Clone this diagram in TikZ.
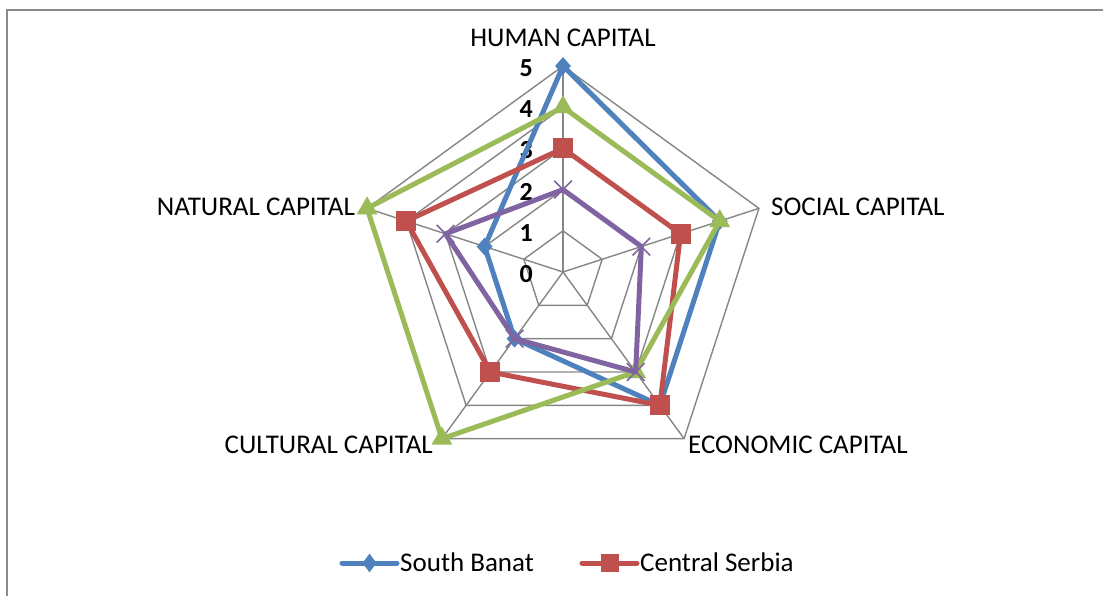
\documentclass[tikz,border=0pt]{standalone}
\usepackage{fontspec}
\setmainfont{Carlito}
\usetikzlibrary{shapes.geometric,shapes.misc,positioning}

\definecolor{sbblue}{RGB}{79,129,189}
\definecolor{csred}{RGB}{192,80,77}
\definecolor{grgreen}{RGB}{155,187,89}
\definecolor{pupurple}{RGB}{128,100,162}
\definecolor{gridgray}{RGB}{134,134,134}
\definecolor{framegray}{RGB}{140,140,140}

\tikzset{
  web/.style={gridgray, line width=1.4pt},
  series/.style={line width=5pt, line join=round, line cap=round},
  axislabel/.style={inner sep=0pt, font=\fontsize{27}{32}\selectfont},
  num/.style={inner sep=0pt, anchor=base east, font=\fontsize{26}{31}\selectfont\bfseries},
  sbmark/.style={diamond, fill=sbblue, inner sep=0pt, minimum width=16pt, minimum height=18pt},
  csmark/.style={rectangle, fill=csred, inner sep=0pt, minimum size=20pt},
  grmark/.style={regular polygon, regular polygon sides=3, fill=grgreen, inner sep=0pt, minimum size=24pt},
  pumark/.style={cross out, draw=pupurple, line width=1.6pt, inner sep=0pt, minimum size=16pt}
}

\begin{document}
\begin{tikzpicture}[x=1pt, y=1pt]
\useasboundingbox (0,0) rectangle (1103,-595);

% chart frame
\draw[framegray, line width=2pt] (7,-605) -- (7,-10) -- (1110,-10);

\begin{scope}[shift={(563pt,-272pt)}, x=41.2pt, y=41.2pt]

% web
\draw[web] (90:1) -- (18:1) -- (-54:1) -- (-126:1) -- (162:1) -- cycle;
\draw[web] (90:2) -- (18:2) -- (-54:2) -- (-126:2) -- (162:2) -- cycle;
\draw[web] (90:3) -- (18:3) -- (-54:3) -- (-126:3) -- (162:3) -- cycle;
\draw[web] (90:4) -- (18:4) -- (-54:4) -- (-126:4) -- (162:4) -- cycle;
\draw[web] (90:5) -- (18:5) -- (-54:5) -- (-126:5) -- (162:5) -- cycle;
\draw[web] (0,0) -- (90:5);
\draw[web] (0,0) -- (18:5);
\draw[web] (0,0) -- (-54:5);
\draw[web] (0,0) -- (-126:5);
\draw[web] (0,0) -- (162:5);

% scale
\node[num] (n0) at (-0.73,-0.255) {0};
\node[num] (n1) at (-0.73,0.745) {1};
\node[num] (n2) at (-0.73,1.745) {2};
\node[num] (n3) at (-0.73,2.745) {3};
\node[num] (n4) at (-0.73,3.745) {4};
\node[num] (n5) at (-0.73,4.745) {5};

% South Banat
\coordinate (sbH) at (90:5);
\coordinate (sbS) at (18:4);
\coordinate (sbE) at (-54:4);
\coordinate (sbC) at (-126:2);
\coordinate (sbN) at (162:2);
\draw[series, sbblue] (sbH) -- (sbS) -- (sbE) -- (sbC) -- (sbN) -- cycle;
\node[sbmark] (sbh) at (sbH) {};
\node[sbmark] (sbs) at (sbS) {};
\node[sbmark] (sbe) at (sbE) {};
\node[sbmark] (sbc) at (sbC) {};
\node[sbmark] (sbn) at (sbN) {};

% Central Serbia
\coordinate (csH) at (90:3);
\coordinate (csS) at (18:3);
\coordinate (csE) at (-54:4);
\coordinate (csC) at (-126:3);
\coordinate (csN) at (162:4);
\draw[series, csred] (csH) -- (csS) -- (csE) -- (csC) -- (csN) -- cycle;
\node[csmark] (csh) at (csH) {};
\node[csmark] (css) at (csS) {};
\node[csmark] (cse) at (csE) {};
\node[csmark] (csc) at (csC) {};
\node[csmark] (csn) at (csN) {};

% third series
\coordinate (grH) at (90:4);
\coordinate (grS) at (18:4);
\coordinate (grE) at (-54:3);
\coordinate (grC) at (-126:5);
\coordinate (grN) at (162:5);
\draw[series, grgreen] (grH) -- (grS) -- (grE) -- (grC) -- (grN) -- cycle;
\node[grmark] (grh) at (grH) {};
\node[grmark] (grs) at (grS) {};
\node[grmark] (gre) at (grE) {};
\node[grmark] (grc) at (grC) {};
\node[grmark] (grn) at (grN) {};

% fourth series
\coordinate (puH) at (90:2);
\coordinate (puS) at (18:2);
\coordinate (puE) at (-54:3);
\coordinate (puC) at (-126:2);
\coordinate (puN) at (162:3);
\draw[series, pupurple] (puH) -- (puS) -- (puE) -- (puC) -- (puN) -- cycle;
\node[pumark] (puh) at (puH) {};
\node[pumark] (pus) at (puS) {};
\node[pumark] (pue) at (puE) {};
\node[pumark] (puc) at (puC) {};
\node[pumark] (pun) at (puN) {};

\end{scope}

% axis labels
\node[axislabel, anchor=base] (human) at (563,-46.7) {HUMAN CAPITAL};
\node[axislabel, anchor=base west] (social) at (771,-215) {SOCIAL CAPITAL};
\node[axislabel, anchor=base west] (economic) at (688,-453) {ECONOMIC CAPITAL};
\node[axislabel, anchor=base east] (cultural) at (433,-453) {CULTURAL CAPITAL};
\node[axislabel, anchor=base east] (natural) at (355,-215) {NATURAL CAPITAL};

% legend
\coordinate (sbL) at (342,-563);
\coordinate (sbR) at (397,-563);
\draw[series, sbblue] (sbL) -- (sbR);
\node[sbmark, minimum width=14pt, minimum height=19pt] (sbkey) at (369.5,-563) {};
\node[axislabel, anchor=base west] (sbtext) at (400,-571.7) {South Banat};

\coordinate (csL) at (582,-563);
\coordinate (csR) at (637,-563);
\draw[series, csred] (csL) -- (csR);
\node[csmark, minimum size=18pt] (cskey) at (609.5,-563) {};
\node[axislabel, anchor=base west] (cstext) at (640,-571.7) {Central Serbia};

\end{tikzpicture}
\end{document}
